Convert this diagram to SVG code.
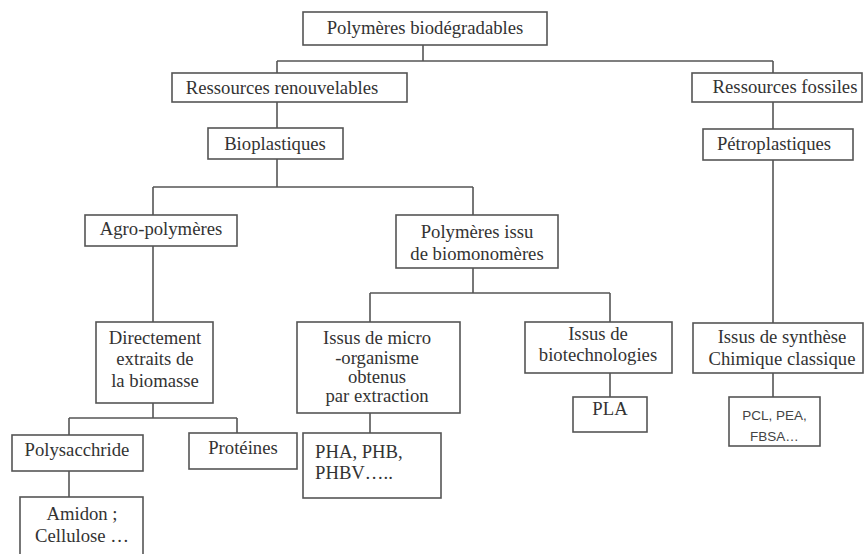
<svg xmlns="http://www.w3.org/2000/svg" width="866" height="554" viewBox="0 0 866 554">
<style>
  .box { fill: #ffffff; stroke: #555555; stroke-width: 1.6; }
  .t { font-family: "Liberation Serif", "Times New Roman", serif; font-size: 18.7px; fill: #333333; text-anchor: middle; }
  .ts { font-family: "Liberation Sans", Arial, sans-serif; font-size: 13.5px; fill: #444444; text-anchor: middle; }
  .conn path { fill: none; stroke: #555555; stroke-width: 1.6; }
</style>
<rect width="866" height="554" fill="#ffffff"/>
<g class="conn" id="connectors">
  <path d="M423,45 V61"/>
  <path d="M277,61 H773"/>
  <path d="M277,61 V73"/>
  <path d="M773,61 V73"/>
  <path d="M277,102 V128"/>
  <path d="M773,102 V129"/>
  <path d="M277,159 V187"/>
  <path d="M153,187 H473"/>
  <path d="M153,187 V215"/>
  <path d="M473,187 V215"/>
  <path d="M153,246 V322"/>
  <path d="M773,160 V323"/>
  <path d="M473,268 V293"/>
  <path d="M370,293 H610"/>
  <path d="M370,293 V322"/>
  <path d="M610,293 V322"/>
  <path d="M153,403 V418"/>
  <path d="M69,418 H237"/>
  <path d="M69,418 V435"/>
  <path d="M237,418 V433"/>
  <path d="M69,471 V497"/>
  <path d="M370,413 V433"/>
  <path d="M610,373 V397"/>
  <path d="M773,373 V397"/>
</g>
<g id="n-polymeres">
  <rect class="box" x="303" y="12" width="244" height="33"/>
  <text class="t" x="425" y="34">Polymères biodégradables</text>
</g>
<g id="n-renouvelables">
  <rect class="box" x="172" y="73" width="235" height="29"/>
  <text class="t" x="282" y="94">Ressources renouvelables</text>
</g>
<g id="n-fossiles">
  <rect class="box" x="692" y="73" width="170" height="29"/>
  <text class="t" x="785" y="93">Ressources fossiles</text>
</g>
<g id="n-bioplastiques">
  <rect class="box" x="208" y="128" width="135" height="31"/>
  <text class="t" x="275" y="150">Bioplastiques</text>
</g>
<g id="n-petroplastiques">
  <rect class="box" x="703" y="129" width="150" height="31"/>
  <text class="t" x="774" y="150">Pétroplastiques</text>
</g>
<g id="n-agro">
  <rect class="box" x="85" y="215" width="152" height="31"/>
  <text class="t" x="161" y="235">Agro-polymères</text>
</g>
<g id="n-biomonomeres">
  <rect class="box" x="396" y="215" width="162" height="53"/>
  <text class="t" x="477" y="238">Polymères issu</text>
  <text class="t" x="477" y="260">de biomonomères</text>
</g>
<g id="n-directement">
  <rect class="box" x="96" y="322" width="117" height="81"/>
  <text class="t" x="155" y="344">Directement</text>
  <text class="t" x="155" y="365">extraits de</text>
  <text class="t" x="155" y="387">la biomasse</text>
</g>
<g id="n-micro">
  <rect class="box" x="297" y="322" width="163" height="91"/>
  <text class="t" x="377" y="344">Issus de micro</text>
  <text class="t" x="377" y="363.5">-organisme</text>
  <text class="t" x="377" y="383">obtenus</text>
  <text class="t" x="377" y="402">par extraction</text>
</g>
<g id="n-biotech">
  <rect class="box" x="525" y="322" width="147" height="51"/>
  <text class="t" x="598" y="340">Issus de</text>
  <text class="t" x="598" y="361">biotechnologies</text>
</g>
<g id="n-synthese">
  <rect class="box" x="693" y="323" width="170" height="50"/>
  <text class="t" x="782" y="343">Issus de synthèse</text>
  <text class="t" x="782" y="365">Chimique classique</text>
</g>
<g id="n-pla">
  <rect class="box" x="573" y="397" width="74" height="35"/>
  <text class="t" x="610" y="415">PLA</text>
</g>
<g id="n-pcl">
  <rect class="box" x="729" y="397" width="91" height="49"/>
  <text class="ts" x="774.5" y="420">PCL, PEA,</text>
  <text class="ts" x="774.5" y="441">FBSA…</text>
</g>
<g id="n-pha">
  <rect class="box" x="303" y="433" width="138" height="65"/>
  <text class="t" x="315" y="458" text-anchor="start" style="text-anchor:start">PHA, PHB,</text>
  <text class="t" x="315" y="479" text-anchor="start" style="text-anchor:start">PHBV…..</text>
</g>
<g id="n-polysacchride">
  <rect class="box" x="12" y="435" width="131" height="36"/>
  <text class="t" x="77" y="456">Polysacchride</text>
</g>
<g id="n-proteines">
  <rect class="box" x="189" y="433" width="108" height="36"/>
  <text class="t" x="243" y="454">Protéines</text>
</g>
<g id="n-amidon">
  <rect class="box" x="20" y="497" width="123" height="70"/>
  <text class="t" x="82" y="520">Amidon ;</text>
  <text class="t" x="82" y="542">Cellulose …</text>
</g>
</svg>
